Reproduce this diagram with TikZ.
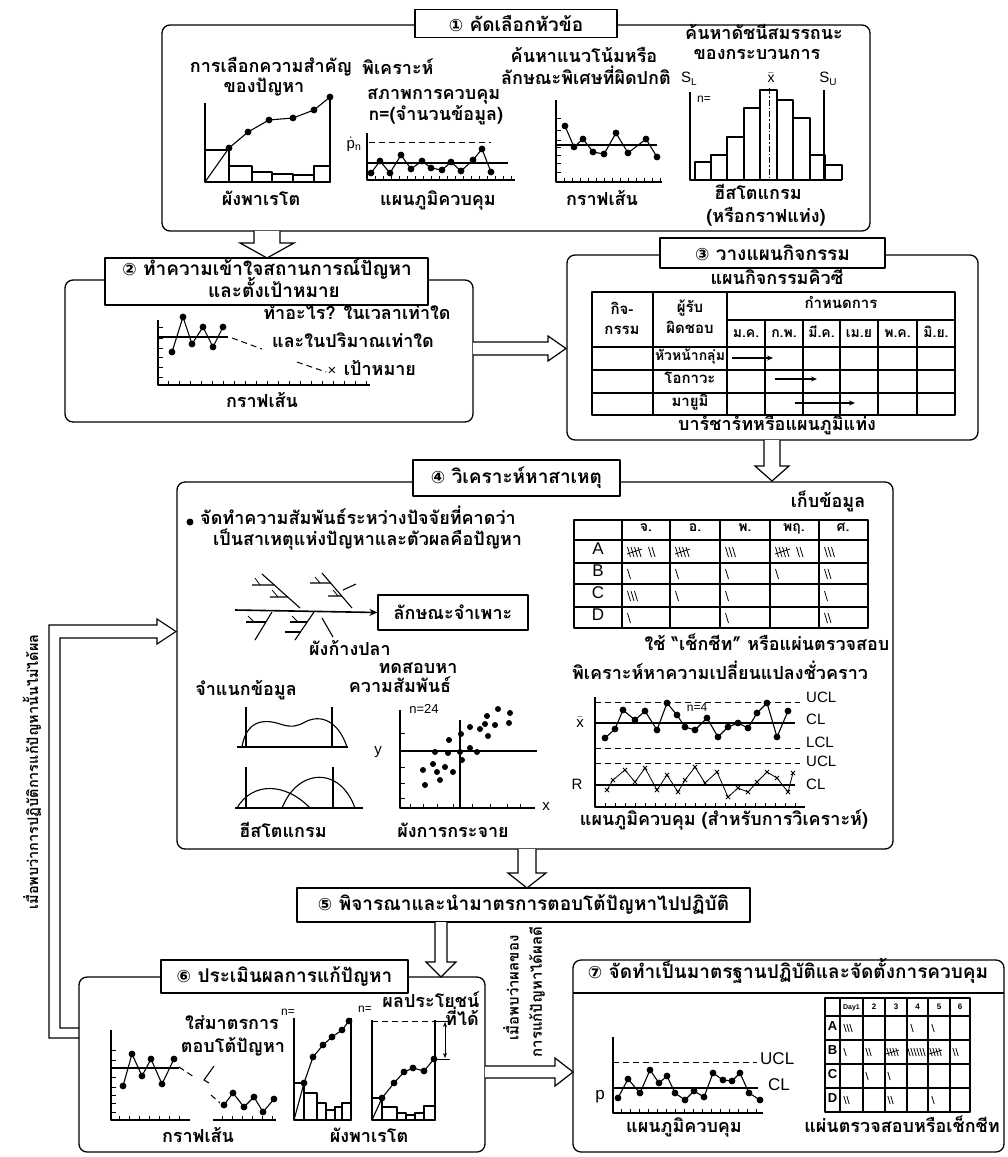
\documentclass[tikz,border=0pt]{standalone}
\usepackage{fontspec}
\setmainfont{Liberation Sans}
\newfontfamily\thai[Script=Thai]{Loma}
\newfontfamily\sym{DejaVu Sans}
\usetikzlibrary{arrows.meta,fit}
\newcommand{\tf}{\thai\bfseries\fontsize{18}{20}\selectfont}
\newcommand{\tft}{\thai\bfseries\fontsize{19}{21}\selectfont}
\newcommand{\tfs}{\thai\bfseries\fontsize{14}{16}\selectfont}
\newcommand{\tfm}{\thai\bfseries\fontsize{15}{17}\selectfont}
\newcommand{\tfr}{\thai\bfseries\fontsize{14.5}{16}\selectfont}
\newcommand{\lf}{\fontsize{15}{17}\selectfont}
\newcommand{\cn}[1]{{\sym\fontsize{17}{17}\selectfont #1}}
\newcommand{\tly}[3]{\foreach \k in {1,...,#3}{\draw[tl] ({#1+(\k-1)*3.5-1.5},{#2-5}) -- ++(3,10);}}
\newcommand{\tlyv}[2]{\tly{#1}{#2}{4}\draw[tl] ({#1-2},{#2+2}) -- ({#1+13},{#2-3});}
\newcommand{\tlys}[3]{\foreach \k in {1,...,#3}{\draw[tl] ({#1+(\k-1)*3-1.2},{#2-4}) -- ++(2.4,8);}}
\newcommand{\tlysv}[2]{\tlys{#1}{#2}{4}\draw[tl] ({#1-2},{#2+2}) -- ({#1+11},{#2-2});}
\tikzset{
  bx/.style={draw, line width=1.3pt, rounded corners=8pt, inner sep=0pt},
  tbox/.style={draw, line width=1.3pt, fill=white, inner sep=0pt},
  ln/.style={line width=1.1pt},
  thn/.style={line width=0.8pt},
  tl/.style={line width=0.8pt},
  dsh/.style={line width=1pt, dash pattern=on 6pt off 4pt},
  tx/.style={inner sep=0pt, anchor=mid, font=\tf},
  txs/.style={inner sep=0pt, anchor=mid, font=\tfs},
  txn/.style={inner sep=0pt, anchor=mid, font=\thai\bfseries\fontsize{15}{17}\selectfont},
  lt/.style={inner sep=0pt, anchor=mid, font=\lf},
  harrow/.style={draw, line width=1.2pt, fill=white, line join=miter},
  dotp/.style={ln, mark=*, mark size=2.8pt},
}
\begin{document}
\begin{tikzpicture}[x=1pt,y=-1pt,line join=round]
\fill[white] (0,0) rectangle (1008,1157);
\useasboundingbox (0,0) rectangle (1008,1157);

% ================= Box 1 =================
\node[bx, fit={(162,25)(870,231)}] (b1) {};
\node[tbox, font=\tft, minimum width=202, minimum height=28] (t1) at (516,23.5) {\cn{①} คัดเลือกหัวข้อ};
% pareto
\node[tx] (p1a) at (271,70) {การเลือกความสำคัญ};
\node[tx] (p1b) at (264,90) {ของปัญหา};
\draw[ln] (205,103) -- (205,182) -- (330,182) -- (330,97);
\draw[ln] (205,150) -- (229,150) -- (229,182);
\draw[ln] (229,166) rectangle (252,182) (252,172) rectangle (272,182) (272,174) rectangle (293,182) (293,175) rectangle (314,182) (314,166) rectangle (330,182);
\draw[ln] (205,182) -- (229,148);
\draw[dotp] plot coordinates {(229,148) (248,132) (269,120) (293,118) (314,110) (330,97)};
\node[tx] (p1c) at (261,203) {ผังพาเรโต};
% control chart
\node[tx, anchor=mid west] (c1a) at (362,72) {พิเคราะห์};
\node[tx, anchor=mid west] (c1b) at (367,97) {สภาพการควบคุม};
\node[tx, anchor=mid west] (c1c) at (369,118) {n=(จำนวนข้อมูล)};
\draw[ln] (367,133) -- (367,180) -- (515,180);
\foreach \x in {375,383,...,511} \draw[thn] (\x,180) -- ++(0,-4);
\node[inner sep=0pt, font=\fontsize{15}{15}\selectfont] (c1p) at (354,144) {$\dot{\mathrm{p}}_{\mathrm{n}}$};
\draw[dsh] (369,142) -- (491,142);
\draw[ln] (367,163) -- (508,163);
\draw[dotp] plot coordinates {(371,173) (380,161) (390,173) (401,155) (411,169) (422,161) (431,168) (442,170) (451,162) (461,171) (473,160) (482,149) (491,172)};
\node[tx] (c1d) at (438,203) {แผนภูมิควบคุม};
% line graph
\node[tx] (l1a) at (584,60) {ค้นหาแนวโน้มหรือ};
\node[tx] (l1b) at (586,82) {ลักษณะพิเศษที่ผิดปกติ};
\draw[ln] (556,100) -- (556,182) -- (662,182);
\foreach \y in {118,130,140,147,155,163,172} \draw[thn] (556,\y) -- ++(5,0);
\foreach \x in {564,572,...,660} \draw[thn] (\x,182) -- ++(0,-4);
\draw[ln] (556,145) -- (657,145);
\draw[dotp] plot coordinates {(565,126) (574,147) (583,139) (593,152) (604,154) (616,133) (628,153) (646,139) (657,157)};
\node[tx] (l1c) at (602,203) {กราฟเส้น};
% histogram
\node[tx] (h1a) at (764,37) {ค้นหาดัชนีสมรรถนะ};
\node[tx] (h1b) at (757,57) {ของกระบวนการ};
\node[lt] (h1sl) at (689,80) {S\raisebox{-3pt}{\fontsize{10}{10}\selectfont L}};
\node[lt, font=\fontsize{14}{14}\selectfont] (h1xb) at (771,80) {$\bar{\mathrm{x}}$};
\node[lt] (h1su) at (828,80) {S\raisebox{-3pt}{\fontsize{10}{10}\selectfont U}};
\draw[ln] (690,92) -- (690,180) -- (842,180);
\draw[ln] (824,90) -- (824,180);
\foreach \a/\b/\t in {695/711/162,711/727/155,727/744/137,744/760/108,760/777/90,777/793/100,793/810/118,810/825/155,825/842/165}
  \draw[ln] (\a,180) -- (\a,\t) -- (\b,\t) -- (\b,180);
\draw[line width=1pt, dash pattern=on 6pt off 2pt on 1.5pt off 2pt] (769,88) -- (769,180);
\node[lt, font=\fontsize{12}{12}\selectfont] (h1n) at (704,100) {n=};
\node[tx] (h1c) at (758,197) {ฮีสโตแกรม};
\node[tx] (h1d) at (766,220) {(หรือกราฟแท่ง)};

% arrow 1 -> 2
\draw[harrow] (254,231) -- (254,243) -- (240,243) -- (267,258) -- (294,243) -- (280,243) -- (280,231);

% ================= Box 2 =================
\node[bx, fit={(65,280)(473,422)}] (b2) {};
\node[tbox, minimum width=323, minimum height=47] (t2) at (266.5,281.5) {};
\node[tx, font=\tft] (t2a) at (267,273) {\cn{②} ทำความเข้าใจสถานการณ์ปัญหา};
\node[tx, font=\tft] (t2b) at (274,295) {และตั้งเป้าหมาย};
\draw[ln] (158,320) -- (158,385) -- (370,385);
\foreach \y in {327,338,348,357,367,377} \draw[thn] (158,\y) -- ++(5,0);
\foreach \x in {168,179,...,366} \draw[thn] (\x,385) -- ++(0,-4);
\draw[ln] (158,337) -- (228,337);
\draw[dotp] plot coordinates {(172,352) (183,317) (192,344) (203,327) (213,347) (223,327)};
\draw[dsh] (232,338) -- (262,349);
\draw[dsh] (297,362) -- (326,372);
\node[lt] (t2x) at (332,373) {×};
\node[tx] (t2c) at (357,317) {ทำอะไร? ในเวลาเท่าใด};
\node[tx] (t2d) at (353,345) {และในปริมาณเท่าใด};
\node[tx] (t2e) at (380,373) {เป้าหมาย};
\node[tx] (t2f) at (262,405) {กราฟเส้น};

% arrow 2 -> 3
\draw[harrow] (473,342) -- (548,342) -- (548,336) -- (566,348.5) -- (548,361) -- (548,355) -- (473,355);

% ================= Box 3 =================
\node[bx, fit={(567,255)(978,440)}] (b3) {};
\node[tbox, font=\tft, minimum width=225, minimum height=30] (t3) at (772.5,253) {\cn{③} วางแผนกิจกรรม};
\node[tx] (g3a) at (777,282) {แผนกิจกรรมคิวซี};
\draw[ln] (592,292) rectangle (955,415);
\draw[ln] (653,292) -- (653,415) (727,292) -- (727,415);
\foreach \x in {765,803,840,878,917} \draw[ln] (\x,320) -- (\x,415);
\draw[ln] (727,320) -- (955,320);
\draw[ln] (592,347) -- (955,347) (592,370) -- (955,370) (592,393) -- (955,393);
\node[txn] (g3b) at (622,312) {กิจ-};
\node[txn] (g3c) at (622,332) {กรรม};
\node[txn] (g3d) at (690,310) {ผู้รับ};
\node[txn] (g3e) at (690,331) {ผิดชอบ};
\node[txn] (g3f) at (841,306) {กำหนดการ};
\foreach \c/\m in {746/ม.ค.,784/ก.พ.,821.5/มี.ค.,859/เม.ย,897.5/พ.ค.,936/มิ.ย.}
  \node[txs] at (\c,335) {\m};
\node[txs] (g3g) at (690,358) {หัวหน้ากลุ่ม};
\node[txn] (g3h) at (690,381) {โอกาวะ};
\node[txn] (g3i) at (690,404) {มายูมิ};
\draw[ln,-{Stealth[length=6pt,width=5pt]}] (732,358) -- (773,358);
\draw[ln,-{Stealth[length=6pt,width=5pt]}] (775,379) -- (817,379);
\draw[ln,-{Stealth[length=6pt,width=5pt]}] (795,403) -- (855,403);
\node[tx] (g3j) at (777,428) {บาร์ชาร์ทหรือแผนภูมิแท่ง};

% arrow 3 -> 4
\draw[harrow] (764,440) -- (764,466) -- (755,466) -- (772,481) -- (789,466) -- (780,466) -- (780,440);

% ================= Box 4 =================
\node[bx, fit={(177,482)(893,849)}] (b4) {};
\node[tbox, font=\tft, minimum width=207, minimum height=36] (t4) at (516.5,478) {\cn{④} วิเคราะห์หาสาเหตุ};
\fill (190,522) circle (3.5);
\node[tx, anchor=mid west] (f4a) at (200,522) {จัดทำความสัมพันธ์ระหว่างปัจจัยที่คาดว่า};
\node[tx, anchor=mid west] (f4b) at (213,543) {เป็นสาเหตุแห่งปัญหาและตัวผลคือปัญหา};
% fishbone
\node[draw, line width=1.2pt, font=\tf, minimum width=150, minimum height=35, inner sep=0pt] (fb) at (453,612.5) {ลักษณะจำเพาะ};
\draw[line width=1.6pt,-{Stealth[length=8pt,width=7pt]}] (235,610) -- (fb.west);
\draw[ln] (262,574) -- (300,608) (322,573) -- (352,608);
\draw[ln] (252,585) -- (274,585) (270,597) -- (288,597) (310,583) -- (331,583) (328,596) -- (342,596) (343,590) -- (356,584);
\draw[thn] (255,578) -- (260,585) (272,590) -- (278,597) (315,577) -- (320,583) (333,590) -- (338,596);
\draw[ln] (272,612) -- (255,640) (314,612) -- (295,640) (322,618) -- (333,637);
\draw[ln] (246,622) -- (266,622) (290,622) -- (307,622) (285,632) -- (301,632);
\draw[thn] (248,616) -- (254,622) (292,616) -- (298,622);
\node[tx] (f4c) at (350,653) {ผังก้างปลา};
\node[tx] (f4d) at (246,693) {จำแนกข้อมูล};
\node[tx] (f4e) at (418,671) {ทดสอบหา};
\node[tx] (f4f) at (400,690) {ความสัมพันธ์};
% histograms
\draw[ln] (237,747) -- (348,747) (246,707) -- (246,747) (332,707) -- (332,747);
\draw[ln] (242,747) .. controls (246,722) and (262,718) .. (280,724) .. controls (292,728) and (298,726) .. (305,722) .. controls (320,714) and (338,720) .. (347,747);
\draw[ln] (235,808) -- (363,808) (246,767) -- (246,808) (333,767) -- (333,808);
\draw[ln] (237,808) .. controls (252,782) and (285,782) .. (310,808);
\draw[ln] (282,808) .. controls (298,768) and (340,766) .. (355,808);
\node[tx] (f4g) at (283,835) {ฮีสโตแกรม};
% scatter
\draw[ln] (400,710) -- (400,808) -- (535,808);
\foreach \y in {733,750,767,783,798} \draw[thn] (400,\y) -- ++(5,0);
\foreach \x in {410,423,437,453,472,490,507,520} \draw[thn] (\x,808) -- ++(0,-4);
\draw[ln] (400,751) -- (537,751) (460,720) -- (460,808);
\node[lt, font=\fontsize{13}{13}\selectfont] (s4n) at (424,711) {n=24};
\node[lt] (s4y) at (378,752) {y};
\node[lt] (s4x) at (546,808) {x};
\foreach \p in {(498,709),(510,713),(487,716),(509,723),(485,724),(495,725),(470,727),(480,729),(461,734),(488,736),(449,740),(470,748),(435,752),(448,753),(460,752),(477,752),(462,760),(433,764),(445,767),(423,770),(437,772),(453,772),(440,780),(425,785)}
  \fill \p circle (3);
\node[tx] (f4h) at (453,835) {ผังการกระจาย};
% data table
\node[tx] (d4a) at (828,505) {เก็บข้อมูล};
\draw[ln] (574,520) rectangle (868,628);
\foreach \x in {622,670,720,770,819} \draw[ln] (\x,520) -- (\x,628);
\foreach \y in {540,563,584,607} \draw[ln] (574,\y) -- (868,\y);
\foreach \c/\m in {646/จ.,695/อ.,745/พ.,794/พฤ.,843/ศ.} \node[txs] at (\c,529) {\m};
\foreach \r/\y in {A/552,B/574,C/596,D/618} \node[lt, font=\fontsize{17}{17}\selectfont] at (598,\y) {\r};
\tlyv{629}{552}\tly{650}{552}{2}
\tlyv{677}{552}
\tly{727}{552}{3}
\tlyv{777}{552}\tly{798}{552}{2}
\tly{826}{552}{3}
\tly{629}{574}{1}\tly{677}{574}{1}\tly{727}{574}{1}\tly{777}{574}{1}\tly{826}{574}{2}
\tly{629}{596}{3}\tly{677}{596}{1}\tly{727}{596}{1}\tly{826}{596}{1}
\tly{629}{618}{1}\tly{727}{618}{1}\tly{826}{618}{2}
\node[tx] (d4b) at (767,648) {ใช้ “เช็กชีท” หรือแผ่นตรวจสอบ};
\node[tx] (d4c) at (720,677) {พิเคราะห์หาความเปลี่ยนแปลงชั่วคราว};
% x-bar R chart
\draw[ln] (595,697) -- (595,807) -- (805,807);
\foreach \x in {605,615,...,800} \draw[thn] (\x,807) -- ++(0,-4);
\draw[dsh] (595,702) -- (800,702) (595,748) -- (800,748) (595,763) -- (800,763);
\draw[ln] (595,723) -- (795,723) (595,785) -- (795,785);
\node[lt, anchor=mid west] (u4a) at (806,700) {UCL};
\node[lt, anchor=mid west] (u4b) at (806,722) {CL};
\node[lt, anchor=mid west] (u4c) at (806,745) {LCL};
\node[lt, anchor=mid west] (u4d) at (806,764) {UCL};
\node[lt, anchor=mid west] (u4e) at (806,787) {CL};
\node[lt] (u4x) at (580,725) {$\bar{\mathrm{x}}$};
\node[lt] (u4r) at (577,787) {R};
\node[lt, font=\fontsize{12}{12}\selectfont] (u4n) at (697,709) {n=4};
\draw[dotp] plot coordinates {(605,738) (615,729) (623,710) (635,720) (645,711) (657,730) (667,703) (677,715) (685,727) (695,730) (707,718) (718,737) (728,727) (738,723) (748,728) (757,713) (767,703) (777,737) (788,711)};
\draw[thn, mark=x, mark size=3pt, mark options={line width=0.9pt}] plot coordinates {(607,790) (613,780) (625,770) (635,782) (645,768) (657,790) (667,775) (678,792) (685,780) (695,767) (705,783) (717,772) (728,797) (738,788) (748,792) (757,782) (767,772) (777,778) (788,792) (793,773)};
\node[tx] (u4f) at (724,823) {แผนภูมิควบคุม (สำหรับการวิเคราะห์)};

% feedback loop arrow
\draw[ln, fill=white, line join=miter] (79,1038) -- (49,1038) -- (49,625) -- (157,625) -- (157,619) -- (176,631.5) -- (157,644) -- (157,638) -- (60,638) -- (60,1028) -- (79,1028);
\node[inner sep=0pt, font=\tfr, rotate=90] (fbk) at (32,772) {เมื่อพบว่าการปฏิบัติการแก้ปัญหานั้นไม่ได้ผล};

% arrow 4 -> 5
\draw[harrow] (518,849) -- (518,873) -- (508,873) -- (527,888) -- (546,873) -- (536,873) -- (536,849);

% ================= Box 5 =================
\node[draw, line width=1.3pt, font=\tft, minimum width=453, minimum height=34, inner sep=0pt] (b5) at (523.5,905) {\cn{⑤} พิจารณาและนำมาตรการตอบโต้ปัญหาไปปฏิบัติ};

% arrow 5 -> 6
\draw[harrow] (435,922) -- (435,962) -- (426,962) -- (441,977) -- (456,962) -- (447,962) -- (447,922);

% ================= Box 6 =================
\node[bx, fit={(79,977)(485,1152)}] (b6) {};
\node[tbox, font=\tft, minimum width=247, minimum height=33] (t6) at (284.5,976.5) {\cn{⑥} ประเมินผลการแก้ปัญหา};
\node[tx] (e6a) at (431,1005) {ผลประโยชน์};
\node[tx] (e6b) at (462,1023) {ที่ได้};
\node[tx] (e6c) at (232,1027) {ใส่มาตรการ};
\node[tx] (e6d) at (233,1050) {ตอบโต้ปัญหา};
% line graph
\draw[ln] (111,1030) -- (111,1120) -- (190,1120) (213,1120) -- (276,1120);
\foreach \y in {1050,1060,1068,1077,1087,1095,1103,1112} \draw[thn] (111,\y) -- ++(5,0);
\foreach \x in {119,129,...,186} \draw[thn] (\x,1120) -- ++(0,-4);
\foreach \x in {222,232,...,272} \draw[thn] (\x,1120) -- ++(0,-4);
\draw[ln] (111,1068) -- (179,1068);
\draw[dotp] plot coordinates {(123,1086) (132,1054) (142,1076) (151,1059) (162,1084) (174,1059)};
\draw[dsh] (179,1067) -- (194,1077);
\draw[dsh] (211,1095) -- (220,1103);
\draw[ln] (214,1066) -- (204,1080) -- (209,1083);
\draw[dotp] plot coordinates {(224,1105) (233,1093) (244,1107) (254,1097) (263,1112) (274,1099)};
\node[tx] (e6e) at (198,1140) {กราฟเส้น};
% pareto 1
\draw[ln] (294,1018) -- (294,1120) -- (351,1120) -- (351,1018);
\draw[ln] (294,1083) -- (304,1083) -- (304,1120);
\draw[ln] (304,1093) rectangle (317,1120) (317,1103) rectangle (326,1120) (326,1110) rectangle (335,1120) (335,1107) rectangle (342,1120) (342,1103) rectangle (351,1120);
\draw[ln] (294,1120) -- (304,1083);
\draw[dotp] plot coordinates {(304,1083) (313,1057) (323,1045) (332,1037) (342,1030) (349,1021)};
\node[lt, font=\fontsize{12}{12}\selectfont] (e6n1) at (288,1013) {n=};
% pareto 2
\draw[ln] (372,1020) -- (372,1120) -- (435,1120) -- (435,1020);
\draw[dsh] (372,1021) -- (435,1021);
\draw[ln] (372,1098) -- (382,1098) -- (382,1120);
\draw[ln] (382,1107) rectangle (397,1120) (397,1113) rectangle (406,1120) (406,1115) rectangle (415,1120) (415,1113) rectangle (424,1120) (424,1106) rectangle (435,1120);
\draw[ln] (372,1120) -- (382,1098);
\draw[dotp] plot coordinates {(382,1098) (394,1083) (404,1072) (413,1068) (424,1071) (434,1059)};
\draw[thn] (435,1021) -- (450,1021) (435,1059) -- (450,1059);
\draw[thn, {Stealth[length=5pt,width=4pt]}-{Stealth[length=5pt,width=4pt]}] (445,1022) -- (445,1058);
\node[lt, font=\fontsize{12}{12}\selectfont] (e6n2) at (365,1010) {n=};
\node[tx] (e6f) at (369,1140) {ผังพาเรโต};

% arrow 6 -> 7
\draw[harrow] (485,1066) -- (555,1066) -- (555,1058) -- (573,1072) -- (555,1086) -- (555,1078) -- (485,1078);
\node[inner sep=0pt, font=\tfm, rotate=90] (w1) at (511,988) {เมื่อพบว่าผลของ};
\node[inner sep=0pt, font=\tfm, rotate=90] (w2) at (537,992) {การแก้ปัญหาได้ผลดี};

% ================= Box 7 =================
\node[bx, fit={(573,960)(1004,1152)}] (b7) {};
\draw[line width=1.3pt] (573,993) -- (1004,993);
\node[tx, font=\tft] (t7) at (788,976) {\cn{⑦} จัดทำเป็นมาตรฐานปฏิบัติและจัดตั้งการควบคุม};
% p chart
\draw[ln] (613,1037) -- (613,1113) -- (763,1113);
\foreach \x in {621,630,...,760} \draw[thn] (\x,1113) -- ++(0,-4);
\draw[dsh] (613,1062) -- (757,1062);
\draw[ln] (613,1088) -- (758,1088);
\node[lt, anchor=mid west, font=\fontsize{17}{17}\selectfont] (k7a) at (760,1062) {UCL};
\node[lt, anchor=mid west, font=\fontsize{17}{17}\selectfont] (k7b) at (768,1088) {CL};
\node[lt, font=\fontsize{17}{17}\selectfont] (k7p) at (600,1097) {p};
\draw[dotp] plot coordinates {(618,1098) (628,1079) (640,1093) (650,1070) (659,1083) (667,1076) (675,1093) (685,1100) (694,1091) (704,1097) (713,1073) (723,1080) (732,1081) (740,1073) (749,1093) (760,1100)};
\node[tx] (k7c) at (684,1130) {แผนภูมิควบคุม};
% check sheet
\draw[ln] (825,998) rectangle (970,1112);
\foreach \x in {840,863,885,907,928,950} \draw[ln] (\x,998) -- (\x,1112);
\foreach \y in {1016,1040,1064,1088} \draw[ln] (825,\y) -- (970,\y);
\node[lt, font=\fontsize{7}{7}\selectfont\bfseries] (k7d) at (851.5,1007) {Day1};
\foreach \c/\m in {874/2,896/3,917.5/4,939/5,960/6} \node[lt, font=\fontsize{8}{8}\selectfont\bfseries] at (\c,1007) {\m};
\foreach \r/\y in {A/1028,B/1052,C/1076,D/1100} \node[lt, font=\fontsize{13}{13}\selectfont\bfseries] at (832.5,\y) {\r};
\tlys{845}{1028}{3}\tlys{912}{1028}{1}\tlys{933}{1028}{1}
\tlys{845}{1052}{1}\tlys{867}{1052}{2}\tlysv{888}{1052}\tlys{909}{1052}{6}\tlysv{931}{1052}\tlys{954}{1052}{2}
\tlys{867}{1076}{1}\tlys{889}{1076}{1}
\tlys{845}{1100}{2}\tlys{889}{1100}{2}\tlys{933}{1100}{1}
\node[tx] (k7e) at (902,1130) {แผ่นตรวจสอบหรือเช็กชีท};
\end{tikzpicture}
\end{document}
